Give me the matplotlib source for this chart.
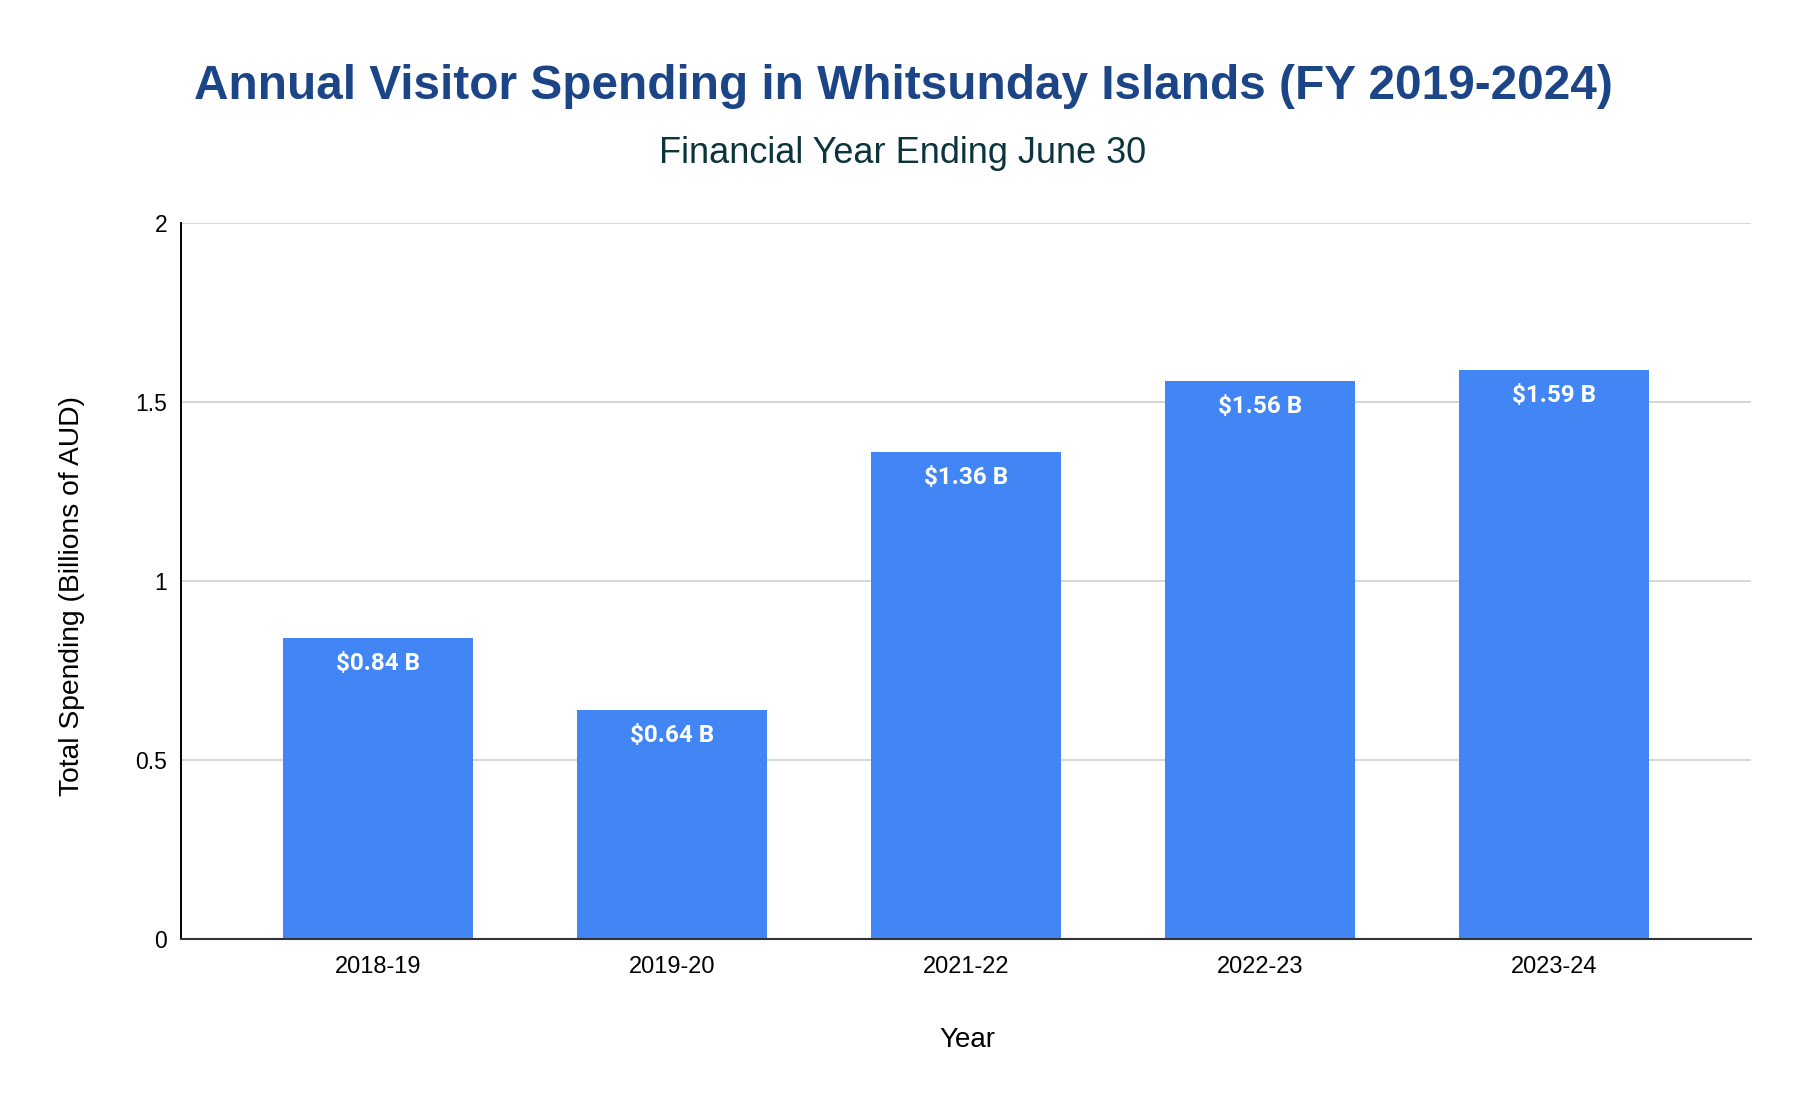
import matplotlib
matplotlib.use("Agg")
import matplotlib.pyplot as plt

years = ["2018-19", "2019-20", "2021-22", "2022-23", "2023-24"]
spending = [0.84, 0.64, 1.36, 1.56, 1.59]
labels = ["$0.84 B", "$0.64 B", "$1.36 B", "$1.56 B", "$1.59 B"]
yticks = [0, 0.5, 1, 1.5, 2]
ytick_labels = ["0", "0.5", "1", "1.5", "2"]

W, H = 1806, 1108
fig = plt.figure(figsize=(W / 100, H / 100), dpi=100)
ax = fig.add_axes([181 / W, 1 - 939 / H, (1751 - 181) / W, (939 - 223) / H])

x = list(range(len(years)))
ax.bar(x, spending, width=0.647, color="#4285f4", zorder=3)

for xi, v, lab in zip(x, spending, labels):
    ax.annotate(lab, (xi, v), xytext=(0, -18.5), textcoords="offset points",
                ha="center", va="center", color="white", fontsize=17.5,
                fontweight="bold", family="Roboto", zorder=4)

ax.set_xlim(-0.671, len(years) - 1 + 0.671)
ax.set_ylim(0, 2)
ax.set_yticks(yticks)
ax.set_yticklabels(ytick_labels, family="Liberation Sans", fontsize=16.5)
ax.set_xticks(x)
ax.set_xticklabels(years, family="Liberation Sans", fontsize=17)
ax.tick_params(axis="y", length=0, pad=10)
ax.tick_params(axis="x", length=0, pad=12)

ax.grid(axis="y", color="#cccccc", linewidth=1.1, zorder=0)
for s in ["top", "right"]:
    ax.spines[s].set_visible(False)
ax.spines["left"].set_color("black")
ax.spines["left"].set_linewidth(1.4)
ax.spines["bottom"].set_color("#333333")
ax.spines["bottom"].set_linewidth(1.5)
ax.spines["bottom"].set_zorder(5)

fig.text(0.5, 1 - 99 / H, "Annual Visitor Spending in Whitsunday Islands (FY 2019-2024)",
         ha="center", va="baseline", fontsize=34.4, fontweight="bold",
         family="Liberation Sans", color="#1c4587")
fig.text(0.5, 1 - 163 / H, "Financial Year Ending June 30", ha="center",
         va="baseline", fontsize=26, family="Liberation Sans", color="#0c343d")
fig.text(967 / W, 1 - 1047 / H, "Year", ha="center", va="baseline",
         fontsize=20, family="Liberation Sans", color="black")
fig.text(72 / W, 1 - 596 / H, "Total Spending (Billions of AUD)", ha="center",
         va="center", rotation=90, fontsize=20.3, family="Liberation Sans",
         color="black")

fig.savefig("out.png", dpi=100, facecolor="white")
